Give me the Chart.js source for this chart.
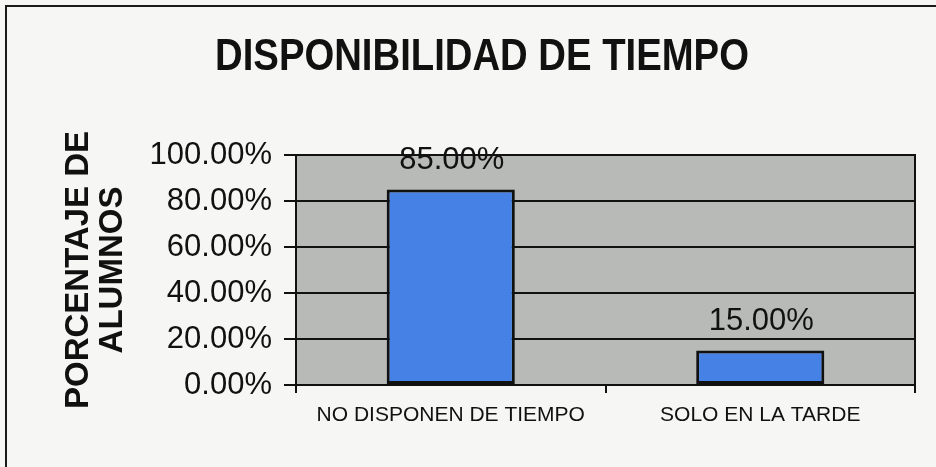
<!DOCTYPE html>
<html>
<head>
<meta charset="utf-8">
<title>Disponibilidad de tiempo</title>
<script src="https://cdn.jsdelivr.net/npm/chart.js@4.4.0/dist/chart.umd.min.js"></script>
<style>
  body { margin: 0; background: #f6f6f4; }
  #chart { display: block; }
</style>
</head>
<body>
<canvas id="chart" width="936" height="467"></canvas>
<script>
// data
var chartTitle = 'DISPONIBILIDAD DE TIEMPO';
var categories = ['NO DISPONEN DE TIEMPO', 'SOLO EN LA TARDE'];
var percentages = [85, 15];
var yTicks = [0, 20, 40, 60, 80, 100];

var FONT = '"Liberation Sans", Arial, sans-serif';

// grey plot area, outer frame and right border of the plot
var backdrop = {
  id: 'backdrop',
  beforeDraw: function(chart) {
    var ctx = chart.ctx, a = chart.chartArea;
    ctx.save();
    ctx.fillStyle = '#b7bab7';
    ctx.fillRect(a.left, a.top, a.right - a.left, a.bottom - a.top);
    ctx.strokeStyle = '#1a1a1a';
    ctx.lineWidth = 2;
    ctx.beginPath();
    ctx.moveTo(6, chart.height);
    ctx.lineTo(6, 6);
    ctx.lineTo(chart.width, 6);
    ctx.stroke();
    ctx.restore();
  },
  afterDraw: function(chart) {
    var ctx = chart.ctx, a = chart.chartArea;
    ctx.save();
    ctx.strokeStyle = '#111';
    ctx.lineWidth = 2;
    ctx.strokeRect(a.left, a.top, a.right - a.left, a.bottom - a.top);
    // the title in the picture is a tall, narrow bold face
    ctx.font = 'bold 44px ' + FONT;
    ctx.fillStyle = '#111';
    ctx.textAlign = 'center';
    ctx.textBaseline = 'alphabetic';
    ctx.translate(482, 70);
    ctx.scale(0.87, 1);
    ctx.fillText(chartTitle, 0, 0);
    ctx.restore();
  }
};

// value labels above the bars
var barLabels = {
  id: 'barLabels',
  afterDatasetsDraw: function(chart) {
    var ctx = chart.ctx;
    var meta = chart.getDatasetMeta(0);
    ctx.save();
    ctx.font = '31px ' + FONT;
    ctx.fillStyle = '#111';
    ctx.textAlign = 'center';
    ctx.textBaseline = 'alphabetic';
    meta.data.forEach(function(bar, i) {
      ctx.fillText(percentages[i].toFixed(2) + '%', bar.x + 1, bar.y - 21);
    });
    ctx.restore();
  }
};

new Chart(document.getElementById('chart'), {
  type: 'bar',
  data: {
    labels: categories,
    datasets: [{
      data: percentages,
      backgroundColor: '#4681e5',
      borderColor: '#111',
      borderWidth: 3,
      borderSkipped: false,
      barPercentage: 0.414,
      categoryPercentage: 1
    }]
  },
  options: {
    responsive: false,
    animation: false,
    layout: { padding: { left: 62, right: 21, top: 155, bottom: 0 } },
    plugins: {
      legend: { display: false },
      tooltip: { enabled: false },
      title: { display: false }
    },
    scales: {
      x: {
        afterFit: function(scale) { scale.height = 82; },
        grid: { drawOnChartArea: false, color: '#111', lineWidth: 2, tickLength: 8 },
        border: { color: '#111', width: 2 },
        ticks: { color: '#111', padding: 10, font: { family: FONT, size: 21 } }
      },
      y: {
        min: 0,
        max: 100,
        afterFit: function(scale) { scale.width = 296 - 62; },
        afterBuildTicks: function(scale) {
          scale.ticks = yTicks.map(function(v) { return { value: v }; });
        },
        grid: { color: '#111', lineWidth: 2, tickLength: 12 },
        border: { color: '#111', width: 2 },
        ticks: {
          color: '#111',
          padding: 12,
          font: { family: FONT, size: 31 },
          callback: function(v) { return v.toFixed(2) + '%'; }
        },
        title: {
          display: true,
          text: ['PORCENTAJE DE', 'ALUMNOS'],
          color: '#111',
          padding: 0,
          font: { family: FONT, size: 33, weight: 'bold', lineHeight: 1.02 }
        }
      }
    }
  },
  plugins: [backdrop, barLabels]
});
</script>
</body>
</html>
